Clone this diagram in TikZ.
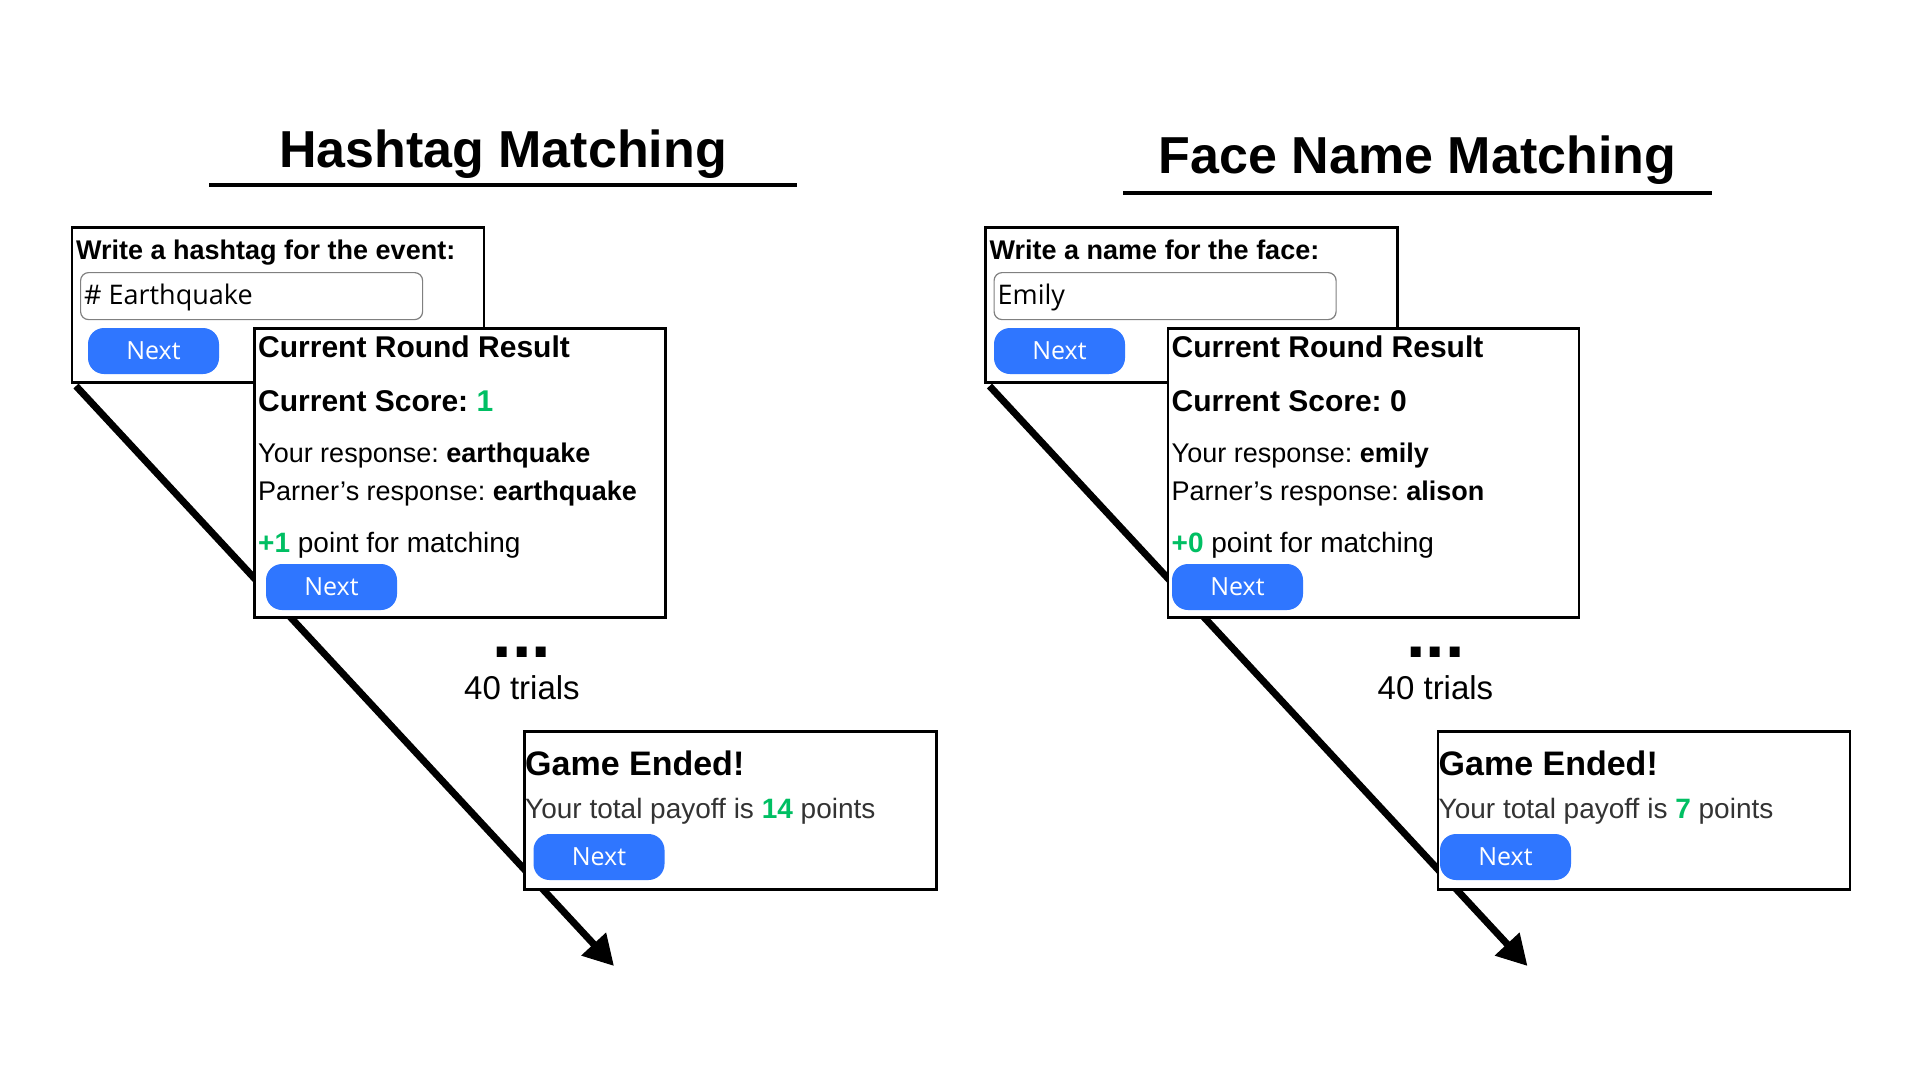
\documentclass[tikz,border=0pt]{standalone}
\usepackage{fontspec}
\setmainfont{Liberation Sans}
\newfontfamily\uifont{Open Sans}
\usetikzlibrary{arrows.meta}
\definecolor{btnblue}{RGB}{47,118,255}
\definecolor{okgreen}{RGB}{0,191,99}
\definecolor{bodygray}{RGB}{51,51,51}
\newcommand\px[1]{\fontsize{#1}{#1}\selectfont}
\frenchspacing
\tikzset{
  screen/.style={draw=black, line width=2.5pt, fill=white, anchor=north west, inner sep=0pt},
  nextbtn/.style={fill=btnblue, rounded corners=16pt, text=white,
    minimum width=131pt, minimum height=46pt, inner sep=0pt, font=\uifont\px{25}},
  inputbox/.style={draw=gray, line width=1.2pt, rounded corners=8pt, anchor=north west,
    minimum width=342pt, minimum height=47pt, inner sep=0pt},
  txt/.style={anchor=base west, inner sep=0pt},
  heading/.style={anchor=base, inner sep=0pt, font=\bfseries\px{52}},
  rule/.style={line width=4pt},
  flow/.style={line width=7pt, -{Triangle[length=30pt,width=32pt]}},
}

\begin{document}
\begin{tikzpicture}[x=1pt,y=-1pt]
  \fill[white] (0,0) rectangle (1920,1080);
  \path[use as bounding box] (0,0) rectangle (1920,1080);

  % titles
  \node[heading] (h-title) at (503,167) {Hashtag Matching};
  \coordinate (h-rule-l) at (209,185);
  \coordinate (h-rule-r) at (797,185);
  \draw[rule] (h-rule-l) -- (h-rule-r);
  \node[heading] (f-title) at (1417.5,173) {Face Name Matching};
  \coordinate (f-rule-l) at (1123,192.5);
  \coordinate (f-rule-r) at (1711.5,192.5);
  \draw[rule] (f-rule-l) -- (f-rule-r);

  % hashtag task
  \begin{scope}
    \coordinate (h-start) at (76,386);
    \coordinate (h-end) at (614,966);
    \draw[flow] (h-start) -- (h-end);
    \node[screen, minimum width=412pt, minimum height=155pt] (h-ask) at (70.5,226) {};
    \node[txt, font=\bfseries\px{27}] (h-prompt) at (76,259) {Write a hashtag for the event:};
    \node[inputbox] (h-input) at (80,272) {};
    \node[txt, font=\uifont\px{27}] (h-entry) at (84,304) {\# Earthquake};
    \node[nextbtn] (h-next1) at (153.5,351) {Next};
    \node[screen, minimum width=411pt, minimum height=289pt] (h-result) at (253,327) {};
    \node[txt, font=\bfseries\px{30}] (h-round) at (258,357) {Current Round Result};
    \node[txt, font=\bfseries\px{30}] (h-score) at (258,411) {Current Score: \textcolor{okgreen}{1}};
    \node[txt, font=\px{27}] (h-yours) at (258,462) {Your response: \textbf{earthquake}};
    \node[txt, font=\px{27}] (h-partner) at (258,500) {Parner’s response: \textbf{earthquake}};
    \node[txt, font=\px{28}] (h-match) at (258,552) {\textcolor{okgreen}{\textbf{+1}} point for matching};
    \node[nextbtn] (h-next2) at (331.5,587) {Next};
    \node[anchor=base, inner sep=0pt, font=\bfseries\px{70}] (h-dots) at (522,657) {...};
    \node[anchor=base, inner sep=0pt, font=\px{33}] (h-trials) at (522,699) {40 trials};
    \node[screen, minimum width=412pt, minimum height=158pt] (h-end-box) at (523,730) {};
    \node[txt, font=\bfseries\px{34}] (h-ended) at (525,775) {Game Ended!};
    \node[txt, font=\px{28}, text=bodygray] (h-payoff) at (525,818) {Your total payoff is \textcolor{okgreen}{\textbf{14}} points};
    \node[nextbtn] (h-next3) at (599,857) {Next};
  \end{scope}

  % face name task
  \begin{scope}[xshift=913.5pt]
    \coordinate (f-start) at (76,386);
    \coordinate (f-end) at (614,966);
    \draw[flow] (f-start) -- (f-end);
    \node[screen, minimum width=412pt, minimum height=155pt] (f-ask) at (70.5,226) {};
    \node[txt, font=\bfseries\px{27}] (f-prompt) at (76,259) {Write a name for the face:};
    \node[inputbox] (f-input) at (80,272) {};
    \node[txt, font=\uifont\px{27}] (f-entry) at (84,304) {Emily};
    \node[nextbtn] (f-next1) at (146,351) {Next};
    \node[screen, minimum width=411pt, minimum height=289pt] (f-result) at (253,327) {};
    \node[txt, font=\bfseries\px{30}] (f-round) at (258,357) {Current Round Result};
    \node[txt, font=\bfseries\px{30}] (f-score) at (258,411) {Current Score: 0};
    \node[txt, font=\px{27}] (f-yours) at (258,462) {Your response: \textbf{emily}};
    \node[txt, font=\px{27}] (f-partner) at (258,500) {Parner’s response: \textbf{alison}};
    \node[txt, font=\px{28}] (f-match) at (258,552) {\textcolor{okgreen}{\textbf{+0}} point for matching};
    \node[nextbtn] (f-next2) at (324,587) {Next};
    \node[anchor=base, inner sep=0pt, font=\bfseries\px{70}] (f-dots) at (522,657) {...};
    \node[anchor=base, inner sep=0pt, font=\px{33}] (f-trials) at (522,699) {40 trials};
    \node[screen, minimum width=412pt, minimum height=158pt] (f-end-box) at (523,730) {};
    \node[txt, font=\bfseries\px{34}] (f-ended) at (525,775) {Game Ended!};
    \node[txt, font=\px{28}, text=bodygray] (f-payoff) at (525,818) {Your total payoff is \textcolor{okgreen}{\textbf{7}} points};
    \node[nextbtn] (f-next3) at (592,857) {Next};
  \end{scope}
\end{tikzpicture}
\end{document}
